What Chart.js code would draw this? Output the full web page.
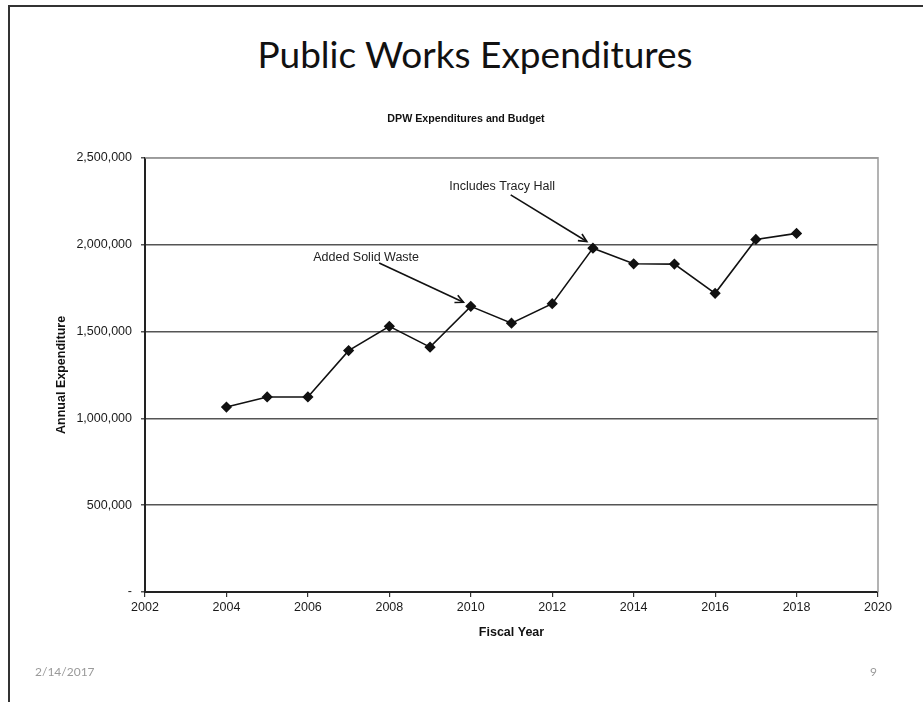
<!DOCTYPE html>
<html>
<head>
<meta charset="utf-8">
<title>Public Works Expenditures</title>
<script src="https://cdn.jsdelivr.net/npm/chart.js@4"></script>
<style>
  html, body { margin: 0; padding: 0; background: #fff; }
  #slide { position: relative; width: 923px; height: 702px; overflow: hidden; }
  #frame { position: absolute; left: 8px; top: 5px; right: -10px; bottom: -10px;
           border-left: 2px solid #333; border-top: 2px solid #333; }
  #heading { position: absolute; left: 0; width: 950px; top: 31px; text-align: center;
             font-family: Lato, "Open Sans", sans-serif; font-size: 37px; color: #111; }
  .foot { position: absolute; top: 664px; font-family: Lato, sans-serif; font-size: 12px; color: #9a9a9a; }
  #chartBox { position: absolute; left: 0; top: 0; width: 923px; height: 702px; }
</style>
</head>
<body>
<div id="slide">
  <div id="frame"></div>
  <div id="heading">Public Works Expenditures</div>
  <div id="chartBox"><canvas id="js--chart"></canvas></div>
  <div class="foot" style="left:35px">2/14/2017</div>
  <div class="foot" style="left:870px">9</div>
</div>
<script>
const fiscalYears = [2004, 2005, 2006, 2007, 2008, 2009, 2010, 2011, 2012, 2013, 2014, 2015, 2016, 2017, 2018];
const expenditures = [1065000, 1123000, 1123000, 1390000, 1530000, 1410000, 1645000, 1548000, 1660000, 1980000, 1890000, 1888000, 1720000, 2030000, 2065000];
const yearTicks = [2002, 2004, 2006, 2008, 2010, 2012, 2014, 2016, 2018, 2020];
const amountTicks = [0, 500000, 1000000, 1500000, 2000000, 2500000];

// callout text with an arrow pointing at a point on the line
const callouts = [
  { text: "Added Solid Waste", at: [2007.43, 1924000], from: [2007.75, 1895000], to: [2009.82, 1668000] },
  { text: "Includes Tracy Hall", at: [2010.77, 2333000], from: [2010.98, 2287000], to: [2012.85, 2018000] }
];

const points = fiscalYears.map(function (yr, i) {
  return { x: yr, y: expenditures[i] };
});

// gray box around the plot area
const plotFrame = {
  id: "plotFrame",
  beforeDatasetsDraw: function (chart) {
    const a = chart.chartArea;
    const ctx = chart.ctx;
    ctx.save();
    ctx.strokeStyle = "#9a9a9a";
    ctx.lineWidth = 1.5;
    ctx.beginPath();
    ctx.moveTo(a.left, a.top);
    ctx.lineTo(a.right, a.top);
    ctx.lineTo(a.right, a.bottom);
    ctx.stroke();
    ctx.restore();
  }
};

const calloutPlugin = {
  id: "callouts",
  afterDatasetsDraw: function (chart) {
    const ctx = chart.ctx;
    const xs = chart.scales.x, ys = chart.scales.y;
    ctx.save();
    callouts.forEach(function (c) {
      ctx.font = "12.5px 'Liberation Sans', Arial, sans-serif";
      ctx.fillStyle = "#222";
      ctx.textAlign = "center";
      ctx.textBaseline = "middle";
      ctx.fillText(c.text, xs.getPixelForValue(c.at[0]), ys.getPixelForValue(c.at[1]));

      const x1 = xs.getPixelForValue(c.from[0]), y1 = ys.getPixelForValue(c.from[1]);
      const x2 = xs.getPixelForValue(c.to[0]), y2 = ys.getPixelForValue(c.to[1]);
      ctx.strokeStyle = "#111";
      ctx.lineWidth = 1.6;
      ctx.beginPath();
      ctx.moveTo(x1, y1);
      ctx.lineTo(x2, y2);
      ctx.stroke();
      const ang = Math.atan2(y2 - y1, x2 - x1);
      ctx.beginPath();
      ctx.moveTo(x2 - 9 * Math.cos(ang - 0.45), y2 - 9 * Math.sin(ang - 0.45));
      ctx.lineTo(x2, y2);
      ctx.lineTo(x2 - 9 * Math.cos(ang + 0.45), y2 - 9 * Math.sin(ang + 0.45));
      ctx.stroke();
    });
    ctx.restore();
  }
};

Chart.defaults.font.family = "'Liberation Sans', Arial, sans-serif";
Chart.defaults.color = "#222";

new Chart(document.getElementById("js--chart"), {
  type: "line",
  data: {
    datasets: [{
      label: "Annual Expenditure",
      data: points,
      borderColor: "#111",
      borderWidth: 1.6,
      backgroundColor: "#111",
      pointStyle: "rectRot",
      pointRadius: 4.5,
      pointHoverRadius: 4.5,
      tension: 0
    }]
  },
  options: {
    responsive: true,
    maintainAspectRatio: false,
    animation: false,
    layout: { padding: { left: 54, right: 45, top: 113, bottom: 58 } },
    plugins: {
      legend: { display: false },
      tooltip: { enabled: false },
      title: {
        display: true,
        text: "DPW Expenditures and Budget",
        font: { size: 10.7, weight: "bold" },
        color: "#111",
        padding: { top: 0, bottom: 32 }
      }
    },
    scales: {
      x: {
        type: "linear",
        min: 2002,
        max: 2020,
        afterBuildTicks: function (axis) {
          axis.ticks = yearTicks.map(function (v) { return { value: v }; });
        },
        ticks: {
          font: { size: 12.5 },
          color: "#1a1a1a",
          padding: 3,
          maxRotation: 0,
          callback: function (v) { return String(v); }
        },
        grid: { drawOnChartArea: false, tickLength: 5, color: "#333", lineWidth: 1.2 },
        border: { color: "#222", width: 2 },
        title: { display: true, text: "Fiscal Year", font: { size: 12.5, weight: "bold" }, color: "#111", padding: { top: 9 } },
        afterFit: function (axis) { axis.height = 52; }
      },
      y: {
        min: 0,
        max: 2500000,
        afterBuildTicks: function (axis) {
          axis.ticks = amountTicks.map(function (v) { return { value: v }; });
        },
        ticks: {
          font: { size: 12.5 },
          color: "#1a1a1a",
          padding: 9,
          callback: function (v) { return v === 0 ? "-" : v.toLocaleString("en-US"); }
        },
        grid: { color: "#555", lineWidth: 1.5, tickLength: 4 },
        border: { color: "#222", width: 2 },
        title: { display: true, text: "Annual Expenditure", font: { size: 12.5, weight: "bold" }, color: "#111", padding: 0 },
        afterFit: function (axis) { axis.width = 91; }
      }
    }
  },
  plugins: [plotFrame, calloutPlugin]
});
</script>
</body>
</html>
